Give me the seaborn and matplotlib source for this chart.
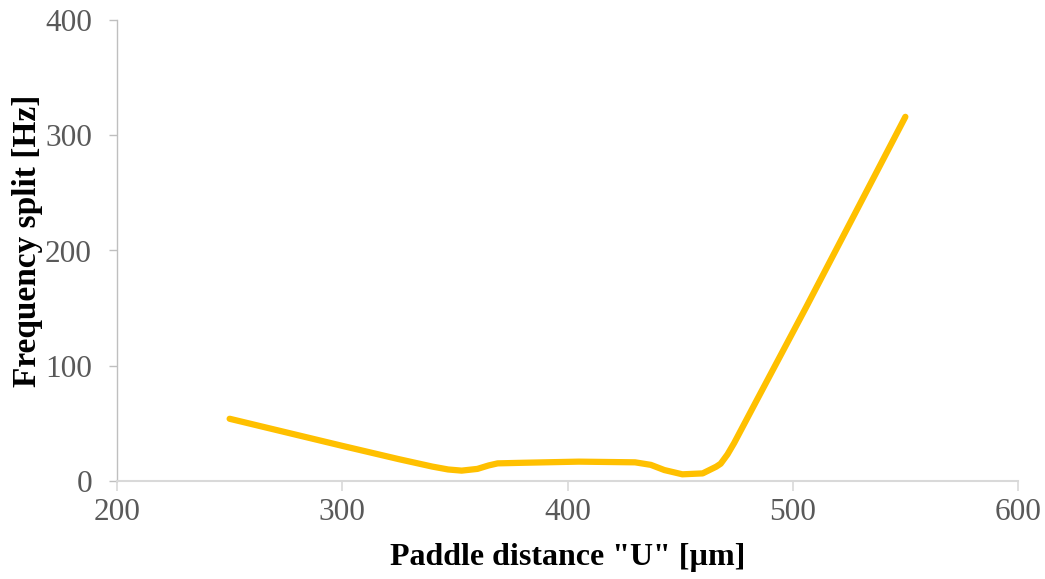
import matplotlib
matplotlib.use("Agg")
import matplotlib.pyplot as plt
import seaborn as sns
import pandas as pd

# Values
paddle_distance = [250, 300, 325, 340, 347, 353, 360, 365, 369, 380, 405, 430,
                   437, 443, 451, 460, 466, 468, 471, 474, 484, 506, 550]
frequency_split = [54, 30.5, 19, 12.5, 10, 9, 10.5, 13.5, 15.3, 15.8, 16.8, 16.2,
                   14, 9.5, 5.8, 6.6, 12.4, 15, 23, 33, 70, 151, 316]
x_ticks = [200, 300, 400, 500, 600]
y_ticks = [0, 100, 200, 300, 400]

sns.set_theme(style="white")
plt.rcParams['font.family'] = ['Liberation Serif', 'DejaVu Serif']

df = pd.DataFrame({"x": paddle_distance, "y": frequency_split})

fig = plt.figure(figsize=(10.45, 5.79), dpi=100)
ax = fig.add_axes([117/1045, 98/579, (1018-117)/1045, (481-20)/579])

sns.lineplot(data=df, x="x", y="y", ax=ax, color="#FFC000", linewidth=4.5,
             solid_joinstyle="round", solid_capstyle="round", sort=False)

ax.set_xlim(200, 600)
ax.set_ylim(0, 400)
ax.set_xticks(x_ticks)
ax.set_yticks(y_ticks)
ax.set_xticklabels([str(v) for v in x_ticks])
ax.set_yticklabels([str(v) for v in y_ticks])

for s in ["top", "right"]:
    ax.spines[s].set_visible(False)
ax.spines["left"].set_color("#BFBFBF")
ax.spines["bottom"].set_color("#D9D9D9")
ax.spines["left"].set_linewidth(1.0)
ax.spines["bottom"].set_linewidth(1.5)

ax.tick_params(axis="x", direction="out", length=7, width=1.2, color="#D9D9D9",
               labelsize=22.5, labelcolor="#595959", pad=5, bottom=True)
ax.tick_params(axis="y", direction="out", length=6, width=1.0, color="#BFBFBF",
               labelsize=22.5, labelcolor="#595959", pad=12, left=True)

ax.set_xlabel('Paddle distance "U" [\u00b5m]', fontsize=23, fontweight="bold",
              color="black", labelpad=12)
ax.set_ylabel("Frequency split [Hz]", fontsize=24, fontweight="bold",
              color="black", labelpad=3)
ax.yaxis.set_label_coords(-0.082, 0.52)
ax.grid(False)

fig.savefig("out.png", dpi=100)
